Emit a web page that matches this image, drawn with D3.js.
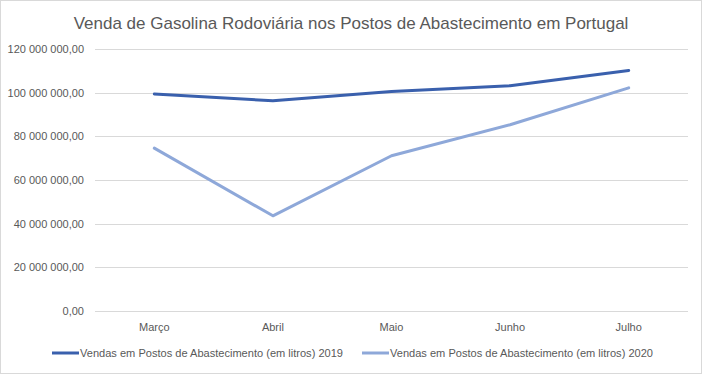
<!DOCTYPE html>
<meta charset="utf-8">
<html>
<head>
  <style>
    body { margin: 0; background: white; }
    text { font-family: "Liberation Sans", "DejaVu Sans", sans-serif; fill: #595959; }
    .grid line { stroke: #d9d9d9; stroke-width: 1px; }
    .series { fill: none; stroke-width: 3px; stroke-linejoin: round; stroke-linecap: round; }
  </style>
</head>
<body>
<svg width="702" height="374"></svg>

<script src="https://d3js.org/d3.v7.min.js"></script>
<script>

// Data
const months = ["Março", "Abril", "Maio", "Junho", "Julho"];
const sales2019 = [99400000, 96300000, 100500000, 103200000, 110200000];
const sales2020 = [74600000, 43600000, 71100000, 85300000, 102200000];
const yTicks = [0, 20000000, 40000000, 60000000, 80000000, 100000000, 120000000];
const seriesNames = [
  "Vendas em Postos de Abastecimento  (em litros) 2019",
  "Vendas em Postos de Abastecimento  (em litros) 2020"
];
const colors = ["#3a60ad", "#8ea8d9"];

const width = 702;
const height = 374;
const svg = d3.select("svg");

// chart border
svg.append("rect")
  .attr("x", 0.5).attr("y", 0.5)
  .attr("width", width - 1).attr("height", height - 1)
  .attr("fill", "white")
  .attr("stroke", "#d9d9d9");

// Layout
const plotLeft = 95, plotRight = 688, plotTop = 49, plotBottom = 311;

const x = d3.scaleBand().domain(months).range([plotLeft, plotRight]);
const y = d3.scaleLinear().domain([0, 120000000]).range([plotBottom, plotTop]);

// Title
svg.append("text")
  .attr("x", width / 2)
  .attr("y", 29)
  .attr("text-anchor", "middle")
  .style("font-size", "17px")
  .text("Venda de Gasolina Rodoviária nos Postos de Abastecimento em Portugal");

// Gridlines
const fmt = v => d3.format(",.2f")(v).replace(/,/g, " ").replace(".", ",");

svg.append("g")
  .attr("class", "grid")
  .selectAll("line")
  .data(yTicks)
  .join("line")
  .attr("x1", plotLeft).attr("x2", plotRight)
  .attr("y1", d => Math.round(y(d)) + 0.5)
  .attr("y2", d => Math.round(y(d)) + 0.5);

// Y axis labels
svg.append("g")
  .selectAll("text")
  .data(yTicks)
  .join("text")
  .attr("x", 84)
  .attr("y", d => y(d))
  .attr("dy", "0.35em")
  .attr("text-anchor", "end")
  .style("font-size", "11px")
  .text(fmt);

// X axis labels
svg.append("g")
  .selectAll("text")
  .data(months)
  .join("text")
  .attr("x", d => x(d) + x.bandwidth() / 2)
  .attr("y", 331)
  .attr("text-anchor", "middle")
  .style("font-size", "11px")
  .text(d => d);

// Lines
const line = d3.line()
  .x((d, i) => x(months[i]) + x.bandwidth() / 2)
  .y(d => y(d));

[sales2019, sales2020].forEach((s, i) => {
  svg.append("path")
    .datum(s)
    .attr("class", "series")
    .attr("stroke", colors[i])
    .attr("d", line);
});

// Legend
const legendX = [52, 362];
seriesNames.forEach((name, i) => {
  const g = svg.append("g").attr("transform", `translate(${legendX[i]},353)`);
  g.append("line")
    .attr("x1", 0).attr("x2", 27)
    .attr("stroke", colors[i])
    .attr("stroke-width", 3);
  g.append("text")
    .attr("x", 28)
    .attr("dy", "0.35em")
    .attr("textLength", 263)
    .attr("lengthAdjust", "spacingAndGlyphs")
    .style("font-size", "11px")
    .text(name);
});

</script>
</body>
</html>
